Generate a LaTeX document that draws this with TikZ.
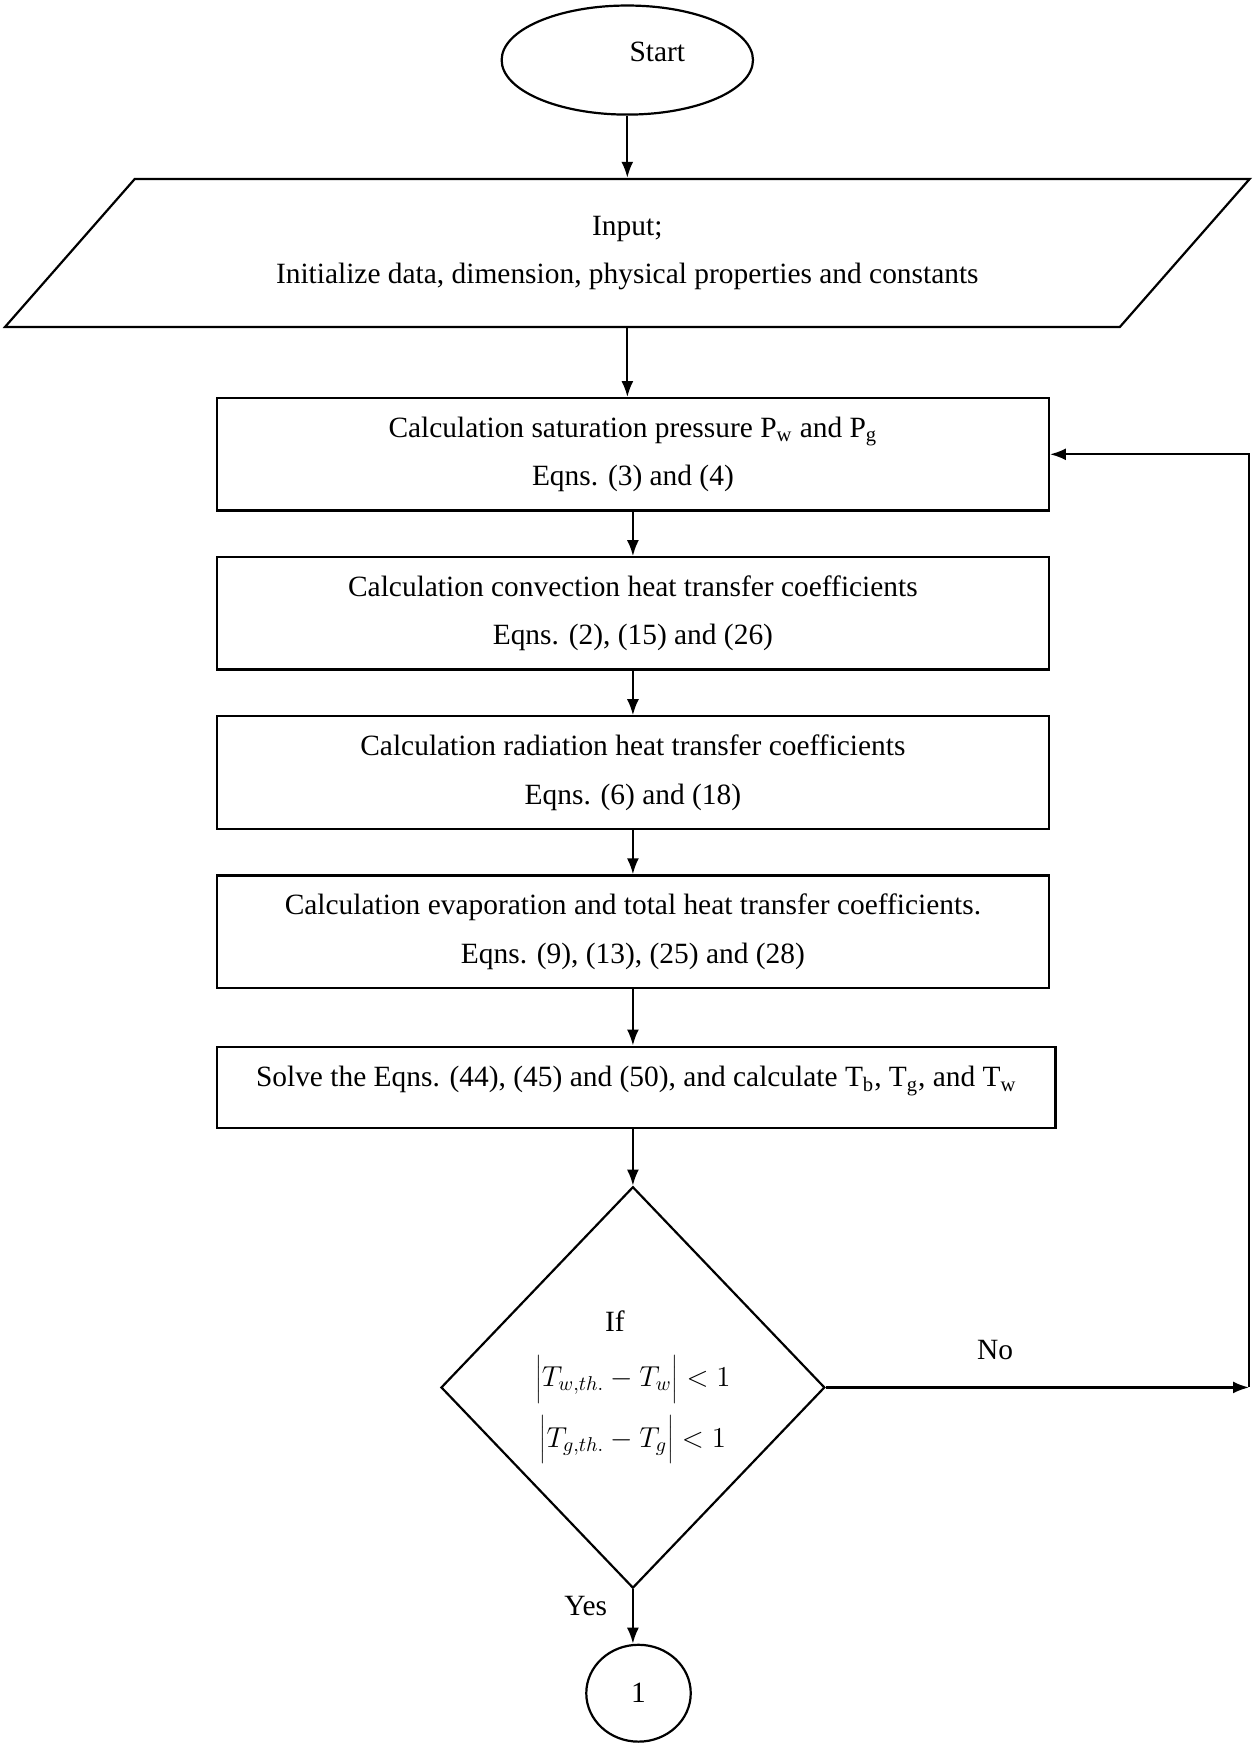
\documentclass[tikz,border=0pt]{standalone}
\usepackage{fontspec}
\setmainfont{Liberation Serif}
\usetikzlibrary{shapes,arrows.meta,positioning}
\tikzstyle{terminal} = [draw, ellipse, minimum width=125.6pt, minimum height=54.5pt, inner sep=0pt]
\tikzstyle{io} = [draw, trapezium, trapezium left angle=34, trapezium right angle=146, trapezium stretches body, minimum width=622pt, minimum height=74pt, align=center]
\tikzstyle{block} = [rectangle, draw, minimum width=415.7pt, minimum height=56.1pt, align=center]
\tikzstyle{decision} = [draw, diamond, minimum width=191.8pt, minimum height=200.6pt, align=center, inner sep=0pt]
\tikzstyle{connector} = [draw, ellipse, minimum width=52.2pt, minimum height=48.4pt, inner sep=0pt]
\tikzstyle{line} = [draw, -{Latex[length=8pt,width=6pt]}]

\begin{document}
\begin{tikzpicture}[x=0.5558pt, y=-0.5558pt, line width=1.1pt, node distance=79.5pt, font=\fontsize{14.7}{24.3}\selectfont]
      \useasboundingbox (0,0) rectangle (1130,1568);
      % place nodes
      \node [terminal, text height=10.5pt, text depth=8.7pt] (start) at (564,54) {\hspace*{30pt}Start};
      \node [io, below of=start, node distance=96.4pt] (input) {Input;\\Initialize data, dimension, physical properties and constants};
      \node [block, below of=input, node distance=100.6pt, xshift=2.8pt] (satur) {Calculation saturation pressure P\textsubscript{w} and P\textsubscript{g}\\Eqns. (3) and (4)};
      \node [block, below of=satur] (conv) {Calculation convection heat transfer coefficients\\Eqns. (2), (15) and (26)};
      \node [block, below of=conv] (rad) {Calculation radiation heat transfer coefficients\\Eqns. (6) and (18)};
      \node [block, below of=rad] (evap) {Calculation evaporation and total heat transfer coefficients.\\Eqns. (9), (13), (25) and (28)};
      \node [block, below of=evap, node distance=77.8pt, xshift=1.7pt, minimum width=419pt, minimum height=40.6pt, text height=10.5pt, text depth=10.9pt] (solve) {Solve the Eqns. (44), (45) and (50), and calculate T\textsubscript{b}, T\textsubscript{g}, and T\textsubscript{w}};
      \node [decision, below of=solve, node distance=150pt, xshift=-1.7pt] (check) {If\hspace*{18pt}\\[3pt]$\bigg|T_{w,th.}-T_w\bigg|<1$\\[6pt]$\bigg|T_{g,th.}-T_g\bigg|<1$};
      \node [connector, below of=check, node distance=152.8pt, xshift=2.8pt] (next) {1};
      \coordinate (back) at (check.east -| 1123,0);

      % draw edges
      \path [line] (start.south) -- (start.south |- input.north);
      \path [line] (input.south) -- (input.south |- satur.north);
      \path [line] (satur.south) -- (conv.north);
      \path [line] (conv.south) -- (rad.north);
      \path [line] (rad.south) -- (evap.north);
      \path [line] (evap.south) -- (evap.south |- solve.north);
      \path [line] (solve.south -| check.north) -- (check.north);
      \path [line] (check.south) -- node [left=9pt, pos=0.3] {Yes} (check.south |- next.north);
      \path [line] (check) -- node [above=10pt, pos=0.4] {No} (back);
      \path [line] (back) |- (satur);
    \end{tikzpicture}
\end{document}
